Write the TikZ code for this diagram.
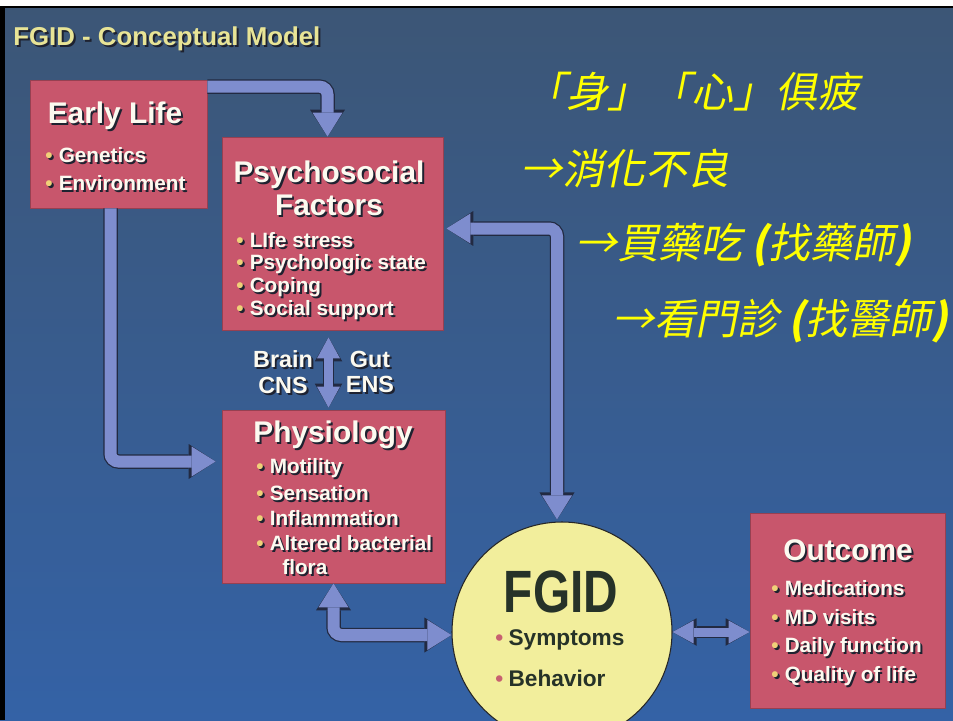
\documentclass[tikz,border=0pt]{standalone}
\usepackage{fontspec}
\setmainfont{Liberation Sans}
\newfontfamily\cjk[FakeSlant=0.2]{Noto Sans CJK TC}
\usetikzlibrary{arrows.meta,calc}
\definecolor{bgtop}{RGB}{60,86,118}
\definecolor{bgbot}{RGB}{52,98,166}
\definecolor{boxred}{RGB}{200,86,108}
\definecolor{arrowfill}{RGB}{126,141,206}
\definecolor{arrowedge}{RGB}{34,42,66}
\definecolor{titleyellow}{RGB}{232,228,150}
\definecolor{bulletc}{RGB}{240,208,120}
\definecolor{fgidyellow}{RGB}{242,238,156}
\definecolor{fgidtext}{RGB}{38,50,40}
\definecolor{fgidbul}{RGB}{200,96,112}
\definecolor{shadowc}{RGB}{30,34,48}
\definecolor{cjkyellow}{RGB}{255,255,0}
\definecolor{textwhite}{RGB}{252,250,240}
\newcommand{\pxw}{0.02cm}
\newcommand{\shd}[1]{\leavevmode\rlap{\kern1.1pt\raisebox{-1.1pt}{\colorlet{bulletc}{shadowc}\color{shadowc}#1}}#1}
\newcommand{\itm}[1]{\shd{\textcolor{bulletc}{\textbullet}}\hspace{3.5pt}\shd{#1}}
\newcommand{\fitm}[1]{\textcolor{fgidbul}{\textbullet}\hspace{3pt}#1}
\tikzset{
    box/.style={rectangle, fill=boxred, draw=boxred!75!black, line width=0.4pt, inner sep=0pt},
    heading/.style={text=textwhite, font=\fontsize{17pt}{18.7pt}\selectfont\bfseries, inner sep=0pt, align=center},
    item/.style={anchor=west, text=textwhite, font=\fontsize{11.8pt}{14pt}\selectfont\bfseries, inner sep=0pt},
    cnslabel/.style={text=textwhite, font=\fontsize{13.3pt}{14.7pt}\selectfont\bfseries, inner sep=0pt, align=center},
    fgiditem/.style={anchor=west, text=fgidtext, font=\fontsize{12.9pt}{14pt}\selectfont\bfseries, inner sep=0pt},
    cjkline/.style={anchor=west, inner sep=0pt, text=cjkyellow, font=\cjk\fontsize{23.8pt}{26pt}\selectfont},
    fat/.style={line width=0.24cm, draw=arrowfill, rounded corners=0.16cm,
        -{Triangle[width=0.6cm,length=0.48cm,line width=0pt]},
        preaction={draw=arrowedge, line width=0.29cm, -{Triangle[width=0.7cm,length=0.54cm,line width=0pt]}}},
    fatboth/.style={line width=0.24cm, draw=arrowfill, rounded corners=0.16cm,
        {Triangle[width=0.6cm,length=0.48cm,line width=0pt]}-{Triangle[width=0.6cm,length=0.48cm,line width=0pt]},
        preaction={draw=arrowedge, line width=0.29cm, {Triangle[width=0.7cm,length=0.54cm,line width=0pt]}-{Triangle[width=0.7cm,length=0.54cm,line width=0pt]}}},
    slimboth/.style={line width=0.18cm, draw=arrowfill,
        {Triangle[width=0.46cm,length=0.42cm,line width=0pt]}-{Triangle[width=0.46cm,length=0.42cm,line width=0pt]},
        preaction={draw=arrowedge, line width=0.23cm, {Triangle[width=0.55cm,length=0.48cm,line width=0pt]}-{Triangle[width=0.55cm,length=0.48cm,line width=0pt]}}}
}
\begin{document}
\begin{tikzpicture}[x=0.02cm, y=-0.02cm]
    \useasboundingbox (0,0) rectangle (953,720);
    \clip (0,0) rectangle (953,720);

    % slide background
    \fill[white] (0,0) rectangle (953,7);
    \shade[top color=bgtop, bottom color=bgbot] (0,7) rectangle (953,720);
    \fill[black] (0,7) rectangle (5,720);
    \draw[black, line width=1pt] (0,7) -- (953,7);

    \node[anchor=west, text=titleyellow, font=\fontsize{14.7pt}{16pt}\selectfont\bfseries, inner sep=0pt] (title) at (13,40) {\shd{FGID - Conceptual Model}};

    % boxes
    \node[box, minimum width=177*\pxw, minimum height=128*\pxw] (early) at (118.5,144) {};
    \node[box, minimum width=221*\pxw, minimum height=193*\pxw] (psy) at (332.5,233.5) {};
    \node[box, minimum width=223*\pxw, minimum height=173*\pxw] (phys) at (333.5,496.5) {};
    \node[box, minimum width=195*\pxw, minimum height=195*\pxw] (outcome) at (847.5,610.5) {};
    \node[circle, fill=fgidyellow, draw=black!85, line width=0.6pt, minimum size=220*\pxw, inner sep=0pt] (fgid) at (562,632) {};

    % early life
    \node[heading] (earlyT) at (115,117) {\shd{Early Life}};
    \node[item] (earlyA) at (45,156) {\itm{Genetics}};
    \node[item] (earlyB) at (45,184) {\itm{Environment}};

    % psychosocial
    \node[heading] (psyT) at (329,189) {\shd{Psychosocial}\\\shd{Factors}};
    \node[item] (psyA) at (236,241) {\itm{LIfe stress}};
    \node[item] (psyB) at (236,265) {\itm{Psychologic state}};
    \node[item] (psyC) at (236,288) {\itm{Coping}};
    \node[item] (psyD) at (236,311) {\itm{Social support}};

    % physiology
    \node[heading] (physT) at (333,436) {\shd{Physiology}};
    \node[item] (physA) at (256,469) {\itm{Motility}};
    \node[item] (physB) at (256,494) {\itm{Sensation}};
    \node[item] (physC) at (256,519) {\itm{Inflammation}};
    \node[item] (physD) at (256,544) {\itm{Altered bacterial}};
    \node[item] (physE) at (282,568) {\shd{flora}};

    % outcome
    \node[heading] (outT) at (848,551) {\shd{Outcome}};
    \node[item] (outA) at (771,589) {\itm{Medications}};
    \node[item] (outB) at (771,618) {\itm{MD visits}};
    \node[item] (outC) at (771,648) {\itm{Daily function}};
    \node[item] (outD) at (771,677) {\itm{Quality of life}};

    % fgid
    \node[text=fgidtext, font=\fontsize{34pt}{36pt}\selectfont\bfseries, inner sep=0pt] (fgidT) at (561,592) {\scalebox{0.8}[1]{FGID}};
    \node[fgiditem] (fgidA) at (495,640) {\fitm{Symptoms}};
    \node[fgiditem] (fgidB) at (495,678) {\fitm{Behavior}};

    % brain-gut
    \node[cnslabel] (brain) at (283,373) {\shd{Brain}\\\shd{CNS}};
    \node[cnslabel] (gut) at (370,373) {\shd{Gut}\\\shd{ENS}};

    % arrows
    \draw[fat] ($(early.north east)+(0,7)$) -| ($(psy.north)+(-5,0)$);
    \draw[fat] ($(early.south)+(-8,0)$) |- ($(phys.west)+(-6,-35)$);
    \draw[fatboth] ($(psy.east)+(3,-5)$) -| ($(fgid.north)+(-5,-2)$);
    \draw[fatboth] (phys.south) |- ($(fgid.west)+(0,3)$);
    \draw[slimboth] (fgid.east) -- (fgid.east -| outcome.west);
    \draw[slimboth] ($(psy.south)+(-4,7)$) -- ($(phys.north)+(-5,-2)$);

    % chinese notes
    \node[cjkline] (note1) at (524,92) {「身」「心」俱疲};
    \node[cjkline] (note2) at (520,169) {→消化不良};
    \node[cjkline] (note3) at (575,245) {→買藥吃 {\bfseries(}找藥師{\bfseries)}};
    \node[cjkline] (note4) at (612,321) {→看門診 {\bfseries(}找醫師{\bfseries)}};
\end{tikzpicture}
\end{document}
